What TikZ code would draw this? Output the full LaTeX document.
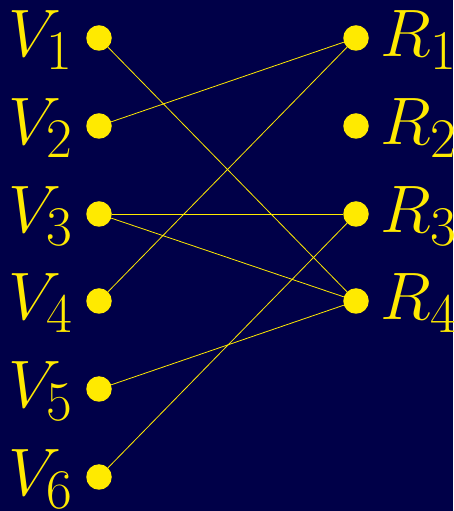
\documentclass[tikz,border=0pt]{standalone}
\usepackage{graphicx}
\definecolor{bgblue}{RGB}{0,0,72}
\definecolor{dotyellow}{RGB}{255,234,0}
\newcommand{\biglbl}[1]{\scalebox{2.7}{\Huge$#1$}}
\begin{document}
\begin{tikzpicture}[x=1pt,y=1pt,
  dotnode/.style={circle,fill=dotyellow,draw=none,minimum size=25.5pt,inner sep=0pt},
  lbl/.style={text=dotyellow,inner sep=0pt},
  edge/.style={draw=dotyellow,line width=0.8pt}]
\fill[bgblue] (0,0) rectangle (453,511);
\useasboundingbox (0,0) rectangle (453,511);
% left dots
\node[dotnode] (v1) at (99,473) {};
\node[dotnode] (v2) at (99,385) {};
\node[dotnode] (v3) at (99,297) {};
\node[dotnode] (v4) at (99,210) {};
\node[dotnode] (v5) at (99,122) {};
\node[dotnode] (v6) at (99,34) {};
% right dots
\node[dotnode] (r1) at (356,473) {};
\node[dotnode] (r2) at (356,385) {};
\node[dotnode] (r3) at (356,297) {};
\node[dotnode] (r4) at (356,210) {};
% labels
\node[lbl,anchor=base east] (lv1) at (74,454) {\biglbl{V_1}};
\node[lbl,anchor=base east] (lv2) at (74,366) {\biglbl{V_2}};
\node[lbl,anchor=base east] (lv3) at (74,278) {\biglbl{V_3}};
\node[lbl,anchor=base east] (lv4) at (74,191) {\biglbl{V_4}};
\node[lbl,anchor=base east] (lv5) at (74,103) {\biglbl{V_5}};
\node[lbl,anchor=base east] (lv6) at (74,15) {\biglbl{V_6}};
\node[lbl,anchor=base west] (lr1) at (380,454) {\biglbl{R_1}};
\node[lbl,anchor=base west] (lr2) at (380,366) {\biglbl{R_2}};
\node[lbl,anchor=base west] (lr3) at (380,278) {\biglbl{R_3}};
\node[lbl,anchor=base west] (lr4) at (380,191) {\biglbl{R_4}};
% edges
\draw[edge] (v1) -- (r4);
\draw[edge] (v2) -- (r1);
\draw[edge] (v3) -- (r3);
\draw[edge] (v3) -- (r4);
\draw[edge] (v4) -- (r1);
\draw[edge] (v5) -- (r4);
\draw[edge] (v6) -- (r3);
\end{tikzpicture}
\end{document}
